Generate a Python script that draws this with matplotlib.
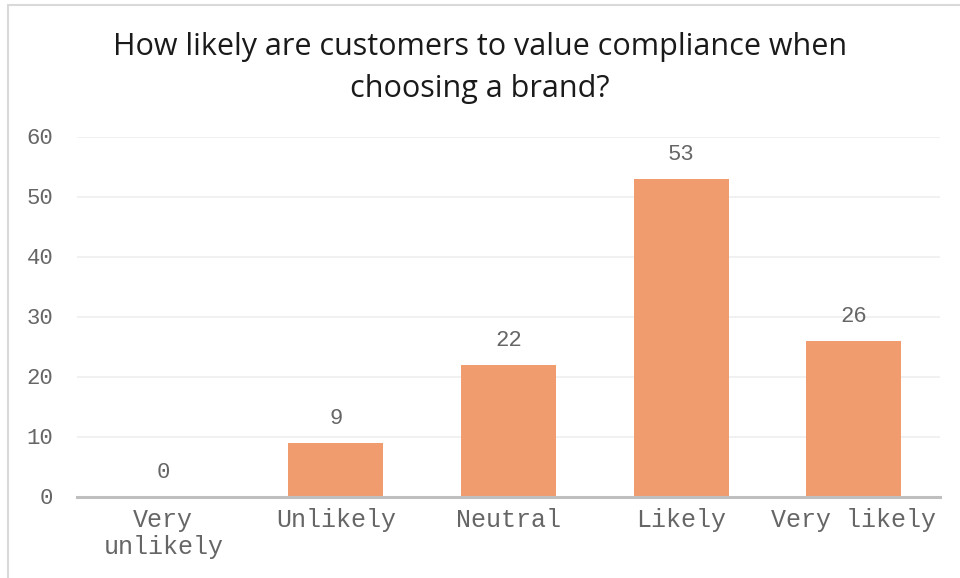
import matplotlib.pyplot as plt
from matplotlib.patches import Rectangle

# Survey responses
categories = ['Very\nunlikely', 'Unlikely', 'Neutral', 'Likely', 'Very likely']
counts = [0, 9, 22, 53, 26]
y_ticks = [0, 10, 20, 30, 40, 50, 60]

bar_color = '#F09C6F'
text_gray = '#666666'
mono = ['Liberation Mono', 'DejaVu Sans Mono']

fig = plt.figure(figsize=(9.6, 5.78), dpi=100)
ax = fig.add_axes([77 / 960, 1 - 496.5 / 578, 863 / 960, 360 / 578])

x = list(range(len(categories)))
ax.bar(x, counts, width=0.55, color=bar_color, zorder=2)

for xi, v in zip(x, counts):
    ax.annotate(str(v), (xi, v), xytext=(0, 10), textcoords='offset points',
                ha='center', va='bottom', fontsize=16, family=mono, color=text_gray)

ax.set_xlim(-0.5, len(categories) - 0.5)
ax.set_ylim(0, 60)
ax.set_yticks(y_ticks)
ax.set_xticks(x)
ax.set_xticklabels(categories, family=mono, fontsize=18, color=text_gray,
                   linespacing=1.2)
ax.set_yticklabels([str(t) for t in y_ticks], family=mono, fontsize=16, color=text_gray)
ax.tick_params(axis='both', length=0)
ax.tick_params(axis='x', pad=8)
ax.tick_params(axis='y', pad=17)

ax.grid(axis='y', color='#EFEFEF', linewidth=1.2, zorder=0)
for side in ['top', 'right', 'left']:
    ax.spines[side].set_visible(False)
ax.spines['bottom'].set_color('#BFBFBF')
ax.spines['bottom'].set_linewidth(2.2)
ax.spines['bottom'].set_zorder(3)

fig.text(0.5, 1 - 68 / 578, 'How likely are customers to value compliance when\nchoosing a brand?',
         ha='center', va='center', fontsize=22, family='Open Sans', color='#1a1a1a',
         linespacing=1.5)

# outer chart frame
fig.patches.append(Rectangle((8 / 960, -0.05), 1.1, 1 - 5 / 578 + 0.05,
                             transform=fig.transFigure, fill=False,
                             edgecolor='#D9D9D9', linewidth=1.5))

fig.savefig('out.png', dpi=100)
